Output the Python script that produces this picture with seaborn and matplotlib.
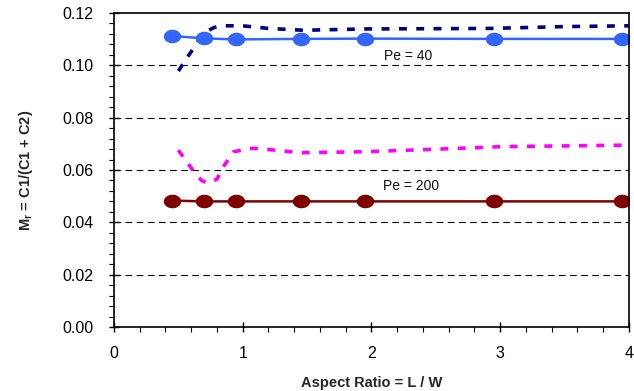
import numpy as np
import pandas as pd
import matplotlib
matplotlib.use("Agg")
import matplotlib.pyplot as plt
from matplotlib.path import Path
from matplotlib.ticker import MultipleLocator, FormatStrFormatter
import seaborn as sns

# Simulated mixing ratio vs aspect ratio
ar_pts = [0.45, 0.70, 0.95, 1.45, 1.95, 2.95, 3.95]
mr_pe40 = [0.1112, 0.1103, 0.1099, 0.1101, 0.1102, 0.1101, 0.1101]
mr_pe200 = [0.0483, 0.0480, 0.0480, 0.0480, 0.0480, 0.0480, 0.0480]

ar_curve40 = [0.50, 0.56, 0.62, 0.70, 0.78, 0.85, 1.00, 1.20, 1.47, 1.96, 2.50, 2.92, 3.50, 4.00]
mr_curve40 = [0.0978, 0.1023, 0.1067, 0.1125, 0.1145, 0.1151, 0.1151, 0.1141, 0.1134, 0.1139, 0.1140, 0.1141, 0.1148, 0.1151]

ar_curve200 = [0.50, 0.56, 0.62, 0.68, 0.73, 0.80, 0.85, 0.93, 1.08, 1.25, 1.45, 1.96, 2.48, 3.00, 3.50, 4.00]
mr_curve200 = [0.0676, 0.0635, 0.0594, 0.0560, 0.0549, 0.0565, 0.0613, 0.0670, 0.0683, 0.0676, 0.0666, 0.0670, 0.0679, 0.0689, 0.0692, 0.0695]

x_ticks = [0, 1, 2, 3, 4]
y_ticks = [0.00, 0.02, 0.04, 0.06, 0.08, 0.10, 0.12]

sns.set_theme(style="white")
plt.rcParams["font.family"] = ["Liberation Sans", "DejaVu Sans"]
plt.rcParams["mathtext.fontset"] = "custom"
plt.rcParams["mathtext.bf"] = "Liberation Sans:bold"
plt.rcParams["mathtext.rm"] = "Liberation Sans"

fig = plt.figure(figsize=(6.34, 3.91), dpi=100)
ax = fig.add_axes([0.1798, 0.1637, 0.992 - 0.1798, 0.9668 - 0.1637])

# slightly flattened ellipse marker
t = np.linspace(0, 2 * np.pi, 60)
ellipse = Path(np.column_stack([np.cos(t), 0.78 * np.sin(t)]), closed=True)

# horizontal grid
for yv in y_ticks[1:-1]:
    ax.axhline(yv, color="black", lw=0.8, ls=(0, (6, 4)), zorder=0)

sns.lineplot(x=ar_curve40, y=mr_curve40, ax=ax, color="#000080", lw=2.6,
             linestyle=(0, (2.2, 2.6)), sort=False)
sns.lineplot(x=ar_curve200, y=mr_curve200, ax=ax, color="#FF00FF", lw=2.6,
             linestyle=(0, (2.2, 2.6)), sort=False)
sns.lineplot(x=ar_pts, y=mr_pe40, ax=ax, color="#3366FF", lw=1.8,
             marker=ellipse, markersize=12.5, markeredgewidth=0, sort=False)
sns.lineplot(x=ar_pts, y=mr_pe200, ax=ax, color="#800000", lw=1.8,
             marker=ellipse, markersize=12.5, markeredgewidth=0, sort=False)

ax.text(2.10, 0.1035, "Pe = 40", fontsize=10, va="center", ha="left", color="#111111")
ax.text(2.09, 0.0539, "Pe = 200", fontsize=10, va="center", ha="left", color="#111111")

ax.set_xlim(0, 4)
ax.set_ylim(0, 0.12)
ax.set_xticks(x_ticks)
ax.set_yticks(y_ticks)
ax.yaxis.set_major_formatter(FormatStrFormatter("%.2f"))
ax.xaxis.set_minor_locator(MultipleLocator(0.2))
ax.yaxis.set_minor_locator(MultipleLocator(0.004))
ax.tick_params(which="major", direction="inout", length=7, width=1, color="black",
               labelsize=11.5, labelcolor="black")
ax.tick_params(axis="y", which="major", pad=11)
ax.tick_params(axis="x", which="major", pad=10)
ax.tick_params(which="minor", direction="out", length=3.5, width=0.8, color="black")
ax.tick_params(bottom=True, left=True, which="both")

for s in ax.spines.values():
    s.set_visible(True)
    s.set_color("black")
    s.set_linewidth(1.2)

ax.set_xlabel("Aspect Ratio = L / W", fontsize=10.5, fontweight="bold", labelpad=11)
ax.set_ylabel(r"M$_\mathbf{r}$ = C1/(C1 + C2)", fontsize=10.5, fontweight="bold", labelpad=20)

fig.savefig("out.png", dpi=100)
